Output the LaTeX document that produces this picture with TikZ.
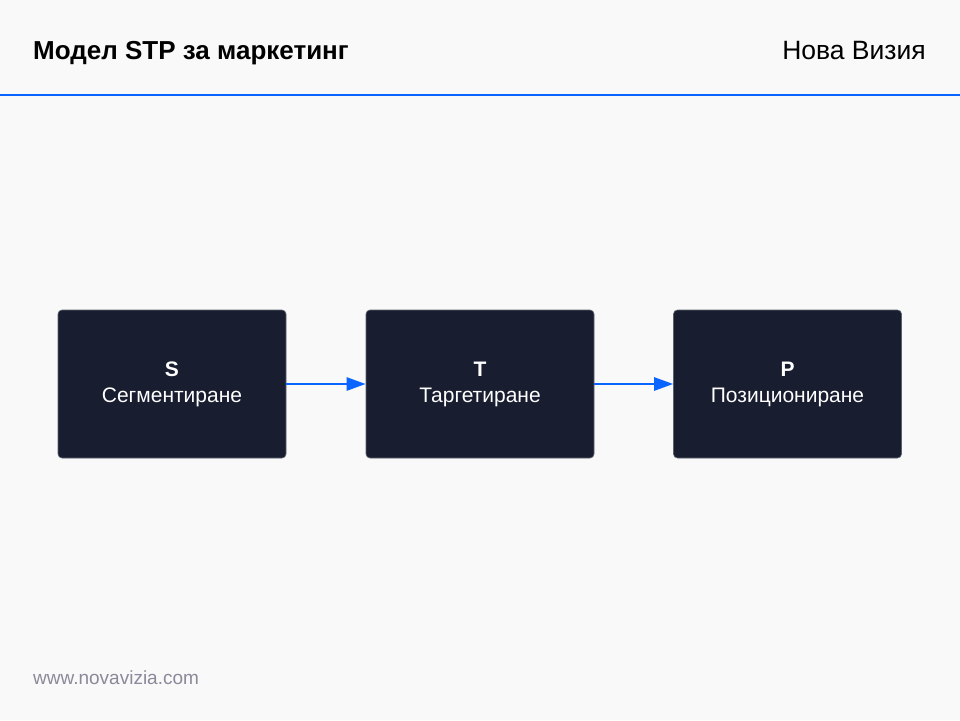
\documentclass[tikz,border=0pt]{standalone}
\usepackage{fontspec}
\setmainfont{Liberation Sans}
\usetikzlibrary{arrows.meta}
\definecolor{bgc}{HTML}{F9F9F9}
\definecolor{boxc}{HTML}{181D30}
\definecolor{accent}{HTML}{0A64FF}
\definecolor{footc}{HTML}{8A8A9A}
\tikzset{
  stepbox/.style={fill=boxc, draw=boxc!70!white, line width=0.6pt, rounded corners=4pt, minimum width=228pt, minimum height=148pt, inner sep=0pt, text=white, align=center, font=\fontsize{21}{26}\selectfont},
  flow/.style={draw=accent, line width=2.5pt, -{Triangle[length=19pt,width=13pt]}, shorten >=0pt}
}
\begin{document}
\begin{tikzpicture}[x=1pt,y=-1pt]
\path[use as bounding box, fill=bgc] (0,0) rectangle (960,720);
\draw[accent, line width=2pt] (0,95) -- (960,95);
\node[anchor=base west, inner sep=0pt, font=\fontsize{26}{30}\selectfont\bfseries] (title) at (33,59) {Модел STP за маркетинг};
\node[anchor=base east, inner sep=0pt, font=\fontsize{26.5}{30}\selectfont] (brand) at (926,59) {Нова Визия};
\node[stepbox] (s) at (172,384) {\textbf{S}\\Сегментиране};
\node[stepbox] (t) at (480,384) {\textbf{T}\\Таргетиране};
\node[stepbox] (p) at (787.5,384) {\textbf{P}\\Позициониране};
\draw[flow] (s.east) -- (t.west);
\draw[flow] (t.east) -- (p.west);
\node[anchor=base west, inner sep=0pt, text=footc, font=\fontsize{19}{22}\selectfont] (url) at (33,684) {www.novavizia.com};
\end{tikzpicture}
\end{document}
